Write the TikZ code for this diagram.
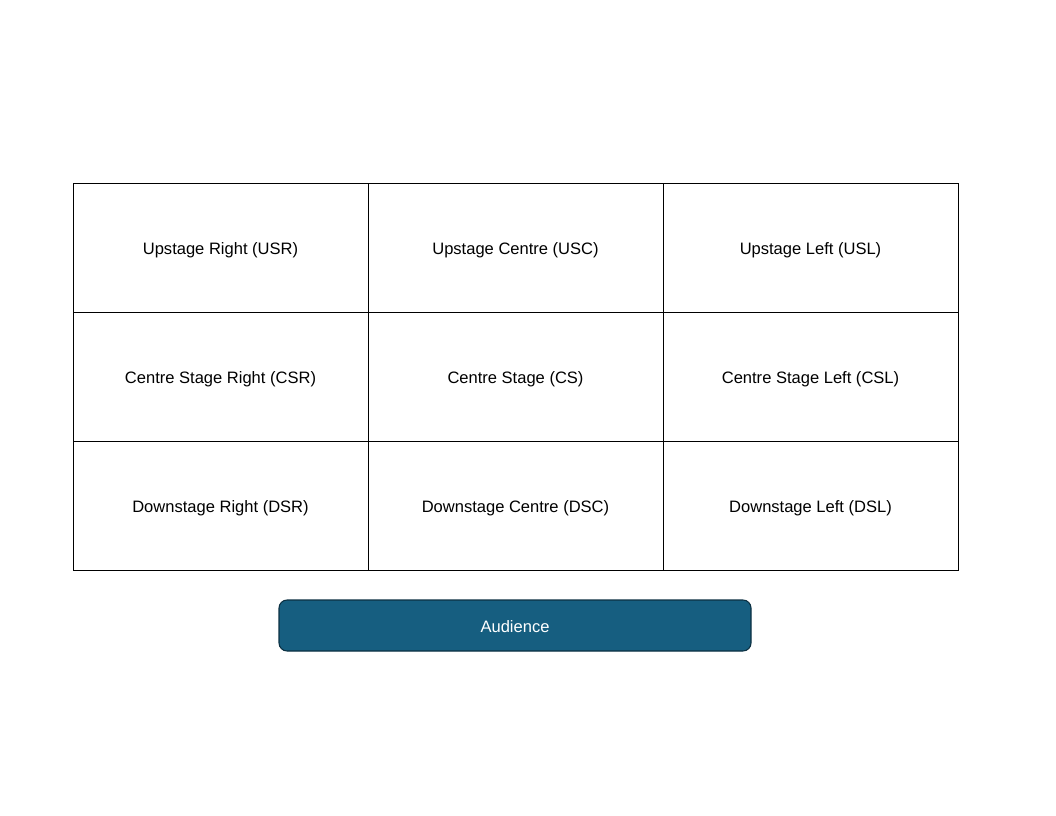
\documentclass[tikz,border=0pt]{standalone}
\usepackage{fontspec}
\setmainfont{Liberation Sans}
\definecolor{audfill}{RGB}{22,94,128}
\definecolor{audline}{RGB}{12,48,66}
\begin{document}
\begin{tikzpicture}[x=0.75pt,y=-0.75pt,
  cell/.style={draw=black, line width=0.6pt, minimum width=221.25pt, minimum height=96.75pt, inner sep=0pt, text height=13.2pt, text depth=2.6pt, font=\fontsize{12.4}{14}\selectfont, anchor=center},
  aud/.style={draw=audline, line width=0.8pt, fill=audfill, rounded corners=6pt, minimum width=354pt, minimum height=38.25pt, inner sep=0pt, text height=11pt, text depth=0pt, text=white, font=\fontsize{12.4}{14}\selectfont}]
\useasboundingbox (0,0) rectangle (1056,816);
\node[cell] (usr) at (220.5,247.5) {Upstage Right (USR)};
\node[cell] (usc) at (515.5,247.5) {Upstage Centre (USC)};
\node[cell] (usl) at (810.5,247.5) {Upstage Left (USL)};
\node[cell] (csr) at (220.5,376.5) {Centre Stage Right (CSR)};
\node[cell] (cs) at (515.5,376.5) {Centre Stage (CS)};
\node[cell] (csl) at (810.5,376.5) {Centre Stage Left (CSL)};
\node[cell] (dsr) at (220.5,505.5) {Downstage Right (DSR)};
\node[cell] (dsc) at (515.5,505.5) {Downstage Centre (DSC)};
\node[cell] (dsl) at (810.5,505.5) {Downstage Left (DSL)};
\node[aud] (audience) at (515,625.5) {Audience};
\end{tikzpicture}
\end{document}
